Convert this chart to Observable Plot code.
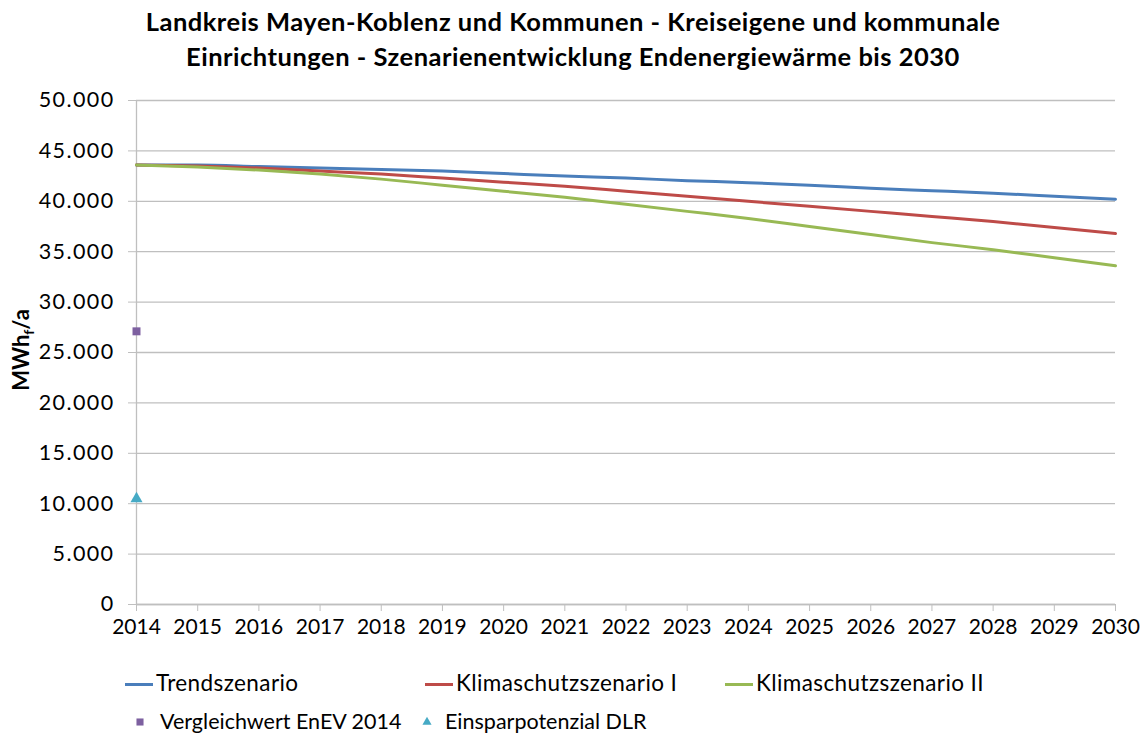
<!DOCTYPE html>
<html><head><meta charset="utf-8">
<script src="https://cdn.jsdelivr.net/npm/d3@7"></script>
<script src="https://cdn.jsdelivr.net/npm/@observablehq/plot@0.6"></script>
<style>
body{margin:0;background:#fff;font-family:Lato, "Open Sans", sans-serif;}
#wrap{position:relative;width:1146px;height:738px;overflow:hidden;}
#title{position:absolute;top:4px;left:0;width:1146px;text-align:center;font-weight:bold;font-size:25.5px;letter-spacing:0.5px;line-height:35px;color:#000;}
#chart{position:absolute;top:85px;left:0;}
.leg{position:absolute;font-size:22.5px;letter-spacing:0.4px;color:#000;white-space:nowrap;line-height:26px;}
.leg.r2{font-size:21.5px;letter-spacing:0px;}
.sw{position:absolute;}
.yt text{letter-spacing:1.4px;}
</style></head><body>
<div id="wrap">
<div id="title">Landkreis Mayen-Koblenz und Kommunen - Kreiseigene und kommunale<br>Einrichtungen - Szenarienentwicklung Endenergiewärme bis 2030</div>
<div id="chart"></div>
<div id="legend"></div>
</div>
<script>
const years = [2014,2015,2016,2017,2018,2019,2020,2021,2022,2023,2024,2025,2026,2027,2028,2029,2030];
const trendszenario = [43600,43600,43450,43300,43150,43000,42750,42500,42300,42050,41850,41600,41300,41050,40800,40500,40200];
const klimaschutzI = [43600,43500,43300,43000,42700,42300,41900,41500,41000,40500,40000,39500,39000,38500,38000,37400,36800];
const klimaschutzII = [43600,43400,43100,42700,42200,41600,41000,40400,39700,39000,38300,37500,36700,35900,35200,34400,33600];
const seriesNames = ["Trendszenario","Klimaschutzszenario I","Klimaschutzszenario II"];
const seriesColors = ["#4a7ebb","#be4b48","#98b954"];
const pointNames = ["Vergleichwert EnEV 2014","Einsparpotenzial DLR"];
const pointYears = [2014,2014];
const pointValues = [27100,10500];
const pointColors = ["#7d60a0","#46aac5"];
const pointSymbols = ["square","triangle"];
const yTicks = [0,5000,10000,15000,20000,25000,30000,35000,40000,45000,50000];

const lineData = [];
[trendszenario, klimaschutzI, klimaschutzII].forEach((arr, i) => {
  arr.forEach((v, j) => lineData.push({series: seriesNames[i], year: years[j], value: v}));
});
const pointData = pointNames.map((n, i) => ({name: n, year: pointYears[i], value: pointValues[i], color: pointColors[i], symbol: pointSymbols[i]}));

const de = d3.formatLocale({decimal: ",", thousands: ".", grouping: [3], currency: ["", " €"]});
const fmt = de.format(",.0f");

const grid = "#bfbfbf";
const chart = Plot.plot({
  width: 1146,
  height: 564,
  marginTop: 15,
  marginLeft: 136,
  marginRight: 31,
  marginBottom: 45,
  style: {fontFamily: "Lato, 'Open Sans', sans-serif", fontSize: "21px", color: "#000", background: "#fff"},
  x: {domain: [2014, 2030], ticks: years, tickFormat: d => String(d)},
  y: {domain: [0, 50000], ticks: yTicks, tickFormat: fmt},
  marks: [
    Plot.gridY(yTicks, {stroke: grid, strokeOpacity: 1, strokeWidth: 1.3}),
    Plot.axisY(yTicks, {tickSize: 8, tickPadding: 14, stroke: grid, strokeOpacity: 1, label: null, tickFormat: fmt, fill: "#000", fontSize: 21.5, className: "yt"}),
    Plot.axisX(years, {tickSize: 7, tickPadding: 8, stroke: grid, strokeOpacity: 1, label: null, tickFormat: d => String(d), fill: "#000", fontSize: 21}),
    Plot.ruleX([2014], {stroke: grid, strokeWidth: 1.3}),
    Plot.ruleY([0], {stroke: grid, strokeWidth: 1.3}),
    Plot.line(lineData, {x: "year", y: "value", z: "series", stroke: "series", strokeWidth: 3, curve: "monotone-x"}),
    Plot.dot(pointData, {x: "year", y: "value", fill: "color", symbol: "symbol", r: 4.5, stroke: null})
  ],
  color: {domain: seriesNames, range: seriesColors},
  symbol: {type: "identity"}
});
document.getElementById("chart").appendChild(chart);

// y-axis title with subscript
const svg = d3.select(chart);
const t = svg.append("text")
  .attr("transform", "translate(29,265) rotate(-90)")
  .attr("text-anchor", "middle")
  .attr("font-family", "Lato, 'Open Sans', sans-serif")
  .attr("font-weight", "bold")
  .attr("font-size", 22)
  .attr("fill", "#000");
t.append("tspan").text("MWh");
t.append("tspan").attr("font-size", 14).attr("dy", 5).text("f");
t.append("tspan").attr("dy", -5).text("/a");

// legend
const leg = document.getElementById("legend");
const lineLegend = [
  {x: 125, y: 684},
  {x: 425, y: 684},
  {x: 725, y: 684}
];
seriesNames.forEach((n, i) => {
  const sw = document.createElement("div");
  sw.className = "sw";
  sw.style.cssText = `left:${lineLegend[i].x}px;top:${lineLegend[i].y - 1.5}px;width:28px;height:3px;background:${seriesColors[i]};`;
  leg.appendChild(sw);
  const lb = document.createElement("div");
  lb.className = "leg";
  lb.style.left = (lineLegend[i].x + 31) + "px";
  lb.style.top = (lineLegend[i].y - 14) + "px";
  lb.textContent = n;
  leg.appendChild(lb);
});
const ptLegend = [{x: 140, y: 722}, {x: 427, y: 722}];
pointNames.forEach((n, i) => {
  const s = document.createElementNS("http://www.w3.org/2000/svg", "svg");
  s.setAttribute("width", 12); s.setAttribute("height", 12);
  s.style.cssText = `position:absolute;left:${ptLegend[i].x - 6}px;top:${ptLegend[i].y - 6}px;`;
  const sym = pointSymbols[i] === "square" ? d3.symbolSquare : d3.symbolTriangle;
  const p = document.createElementNS("http://www.w3.org/2000/svg", "path");
  p.setAttribute("d", d3.symbol(sym, pointSymbols[i] === "square" ? 50 : 36)());
  p.setAttribute("transform", "translate(6,6)");
  p.setAttribute("fill", pointColors[i]);
  s.appendChild(p);
  leg.appendChild(s);
  const lb = document.createElement("div");
  lb.className = "leg r2";
  lb.style.left = (ptLegend[i].x + (i === 0 ? 20 : 18)) + "px";
  lb.style.top = (ptLegend[i].y - 14) + "px";
  lb.textContent = n;
  leg.appendChild(lb);
});
</script>
</body></html>
